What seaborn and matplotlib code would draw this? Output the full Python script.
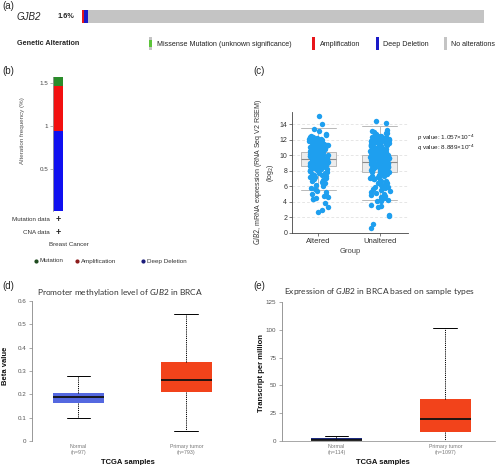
import numpy as np
import pandas as pd
import matplotlib
matplotlib.use("Agg")
import matplotlib.pyplot as plt
from matplotlib.patches import Rectangle
from matplotlib.lines import Line2D
import seaborn as sns

# ---------------- data ----------------
gene = "GJB2"
altered_label = "1.6%"
# (a)/(b) alteration frequencies (% of breast cancer samples)
b_types = ["Mutation", "Amplification", "Deep Deletion"]
b_freq = [0.11, 0.52, 0.94]
a_legend = ["Missense Mutation (unknown significance)", "Amplification",
            "Deep Deletion", "No alterations"]

# (c) expression by alteration group
c_groups = ["Altered", "Unaltered"]
altered_box = [5.5, 8.6, 9.45, 10.4, 13.5]       # whislo, q1, med, q3, whishi
unaltered_box = [4.2, 7.8, 9.07, 10.0, 13.75]
altered_expr = [15.02, 14.01, 13.35, 13.08, 12.74, 12.55, 12.41, 12.33, 12.28, 12.19,
                12.12, 12.07, 12.02, 11.96, 11.91, 11.88, 11.83, 11.79, 11.72, 11.69,
                11.63, 11.61, 11.56, 11.52, 11.48, 11.44, 11.41, 11.37, 11.33, 11.29,
                11.26, 11.22, 11.18, 11.15, 11.11, 11.07, 11.04, 11.01, 10.97, 10.93,
                10.91, 10.87, 10.84, 10.81, 10.77, 10.74, 10.71, 10.68, 10.64, 10.62,
                10.58, 10.55, 10.52, 10.49, 10.46, 10.43, 10.41, 10.38, 10.35, 10.32,
                10.29, 10.27, 10.24, 10.21, 10.18, 10.16, 10.13, 10.1, 10.08, 10.05,
                10.02, 9.99, 9.97, 9.94, 9.91, 9.89, 9.86, 9.84, 9.81, 9.78, 9.76,
                9.73, 9.7, 9.68, 9.65, 9.62, 9.6, 9.57, 9.54, 9.51, 9.49, 9.46, 9.43,
                9.41, 9.38, 9.35, 9.32, 9.3, 9.27, 9.24, 9.21, 9.18, 9.15, 9.12, 9.09,
                9.06, 9.03, 9.0, 8.96, 8.93, 8.9, 8.86, 8.83, 8.79, 8.75, 8.72, 8.68,
                8.64, 8.6, 8.56, 8.52, 8.47, 8.42, 8.37, 8.31, 8.25, 8.18, 8.12, 8.05,
                7.98, 7.91, 7.83, 7.75, 7.66, 7.58, 7.49, 7.41, 7.32, 7.23, 7.14, 7.05,
                6.95, 6.82, 6.68, 6.55, 6.41, 6.27, 6.12, 5.96, 5.81, 5.63, 5.44, 5.21,
                4.98, 4.83, 4.72, 4.61, 4.49, 4.38, 4.29, 3.82, 3.31, 2.91, 2.72]
unaltered_expr = [14.35, 14.2, 13.25, 13.12, 13.02, 12.91, 12.82, 12.68, 12.59, 12.51,
                  12.44, 12.38, 12.31, 12.26, 12.2, 12.16, 12.11, 12.06, 12.01, 11.97,
                  11.92, 11.88, 11.83, 11.79, 11.74, 11.7, 11.66, 11.62, 11.57, 11.53,
                  11.49, 11.45, 11.41, 11.37, 11.33, 11.29, 11.25, 11.21, 11.17, 11.13,
                  11.09, 11.05, 11.01, 10.98, 10.94, 10.9, 10.87, 10.83, 10.79, 10.76,
                  10.72, 10.69, 10.65, 10.62, 10.58, 10.55, 10.51, 10.48, 10.45, 10.41,
                  10.38, 10.35, 10.31, 10.28, 10.25, 10.22, 10.19, 10.15, 10.12, 10.09,
                  10.06, 10.03, 10.0, 9.97, 9.94, 9.91, 9.88, 9.85, 9.82, 9.79, 9.76,
                  9.73, 9.7, 9.67, 9.64, 9.61, 9.58, 9.55, 9.52, 9.49, 9.46, 9.43, 9.4,
                  9.37, 9.34, 9.31, 9.28, 9.25, 9.22, 9.19, 9.16, 9.13, 9.1, 9.07, 9.04,
                  9.01, 8.97, 8.94, 8.91, 8.88, 8.85, 8.81, 8.78, 8.75, 8.71, 8.68, 8.65,
                  8.61, 8.58, 8.54, 8.51, 8.47, 8.44, 8.4, 8.36, 8.33, 8.29, 8.25, 8.21,
                  8.17, 8.13, 8.09, 8.05, 8.01, 7.96, 7.92, 7.87, 7.83, 7.78, 7.73, 7.68,
                  7.63, 7.58, 7.52, 7.46, 7.41, 7.35, 7.29, 7.22, 7.16, 7.09, 7.02, 6.95,
                  6.88, 6.8, 6.72, 6.64, 6.55, 6.46, 6.37, 6.27, 6.17, 6.06, 5.95, 5.84,
                  5.72, 5.6, 5.47, 5.34, 5.21, 5.07, 4.93, 4.81, 4.69, 4.58, 4.47, 4.36,
                  4.24, 4.12, 4.03, 3.52, 3.41, 3.35, 2.31, 2.12, 1.12, 0.55]
p_value = "1.057"
q_value = "8.889"
pq_exponent = "-4"

# (d) promoter methylation
d_groups = ["Normal", "Primary tumor"]
d_n = [97, 793]
normal_meth = [0.099, 0.162, 0.187, 0.207, 0.279]
tumor_meth = [0.042, 0.209, 0.263, 0.340, 0.546]

# (e) expression (TPM)
e_groups = ["Normal", "Primary tumor"]
e_n = [114, 1097]
normal_tpm = [0.0, 0.5, 1.3, 2.3, 4.8]
tumor_tpm = [0.3, 8.4, 19.8, 38.0, 101.9]

# ---------------- style ----------------
sns.set_theme(style="white")
plt.rcParams["font.family"] = ["Liberation Sans", "DejaVu Sans"]
plt.rcParams["mathtext.fontset"] = "custom"
plt.rcParams["mathtext.it"] = "Lato:italic"
plt.rcParams["mathtext.rm"] = "Lato"

W, H = 500, 465
fig = plt.figure(figsize=(5, 4.65), dpi=100)


def add_ax(x0, y0, x1, y1):
    return fig.add_axes([x0 / W, 1 - y1 / H, (x1 - x0) / W, (y1 - y0) / H])


def ftext(x, y, s, **kw):
    kw.setdefault("va", "center")
    return fig.text(x / W, 1 - y / H, s, **kw)


def frect(x0, y0, x1, y1, color):
    fig.add_artist(Rectangle((x0 / W, 1 - y1 / H), (x1 - x0) / W, (y1 - y0) / H,
                             transform=fig.transFigure, color=color, lw=0))


# ---------------- (a) ----------------
A_RED, A_BLUE, A_GREEN, A_GRAY = "#E8161B", "#1A1AC8", "#5CC43A", "#C4C4C4"
axA = add_ax(82, 10, 484, 23)
left = 0.0
for v, c in zip([b_freq[1], b_freq[2], b_freq[0]], [A_RED, A_BLUE, A_GREEN]):
    axA.barh(0, v, left=left, height=1, color=c, lw=0)
    left += v
axA.barh(0, 100 - left, left=left, height=1, color=A_GRAY, lw=0)
axA.set_xlim(0, 100)
axA.set_ylim(-0.5, 0.5)
axA.axis("off")

ftext(2, 6, "(a)", fontsize=7)
ftext(17, 17, gene, fontsize=7, style="italic")
ftext(58, 17, altered_label, fontsize=5.3, weight="bold")
ftext(17, 43, "Genetic Alteration", fontsize=5.2, weight="bold")
frect(149, 37, 152, 50, A_GRAY)
frect(149, 40, 152, 47, A_GREEN)
frect(312, 37, 315, 50, A_RED)
frect(376, 37, 379, 50, A_BLUE)
frect(444, 37, 447, 50, A_GRAY)
for x, s in zip([157, 320, 383, 451], a_legend):
    ftext(x, 44, s, fontsize=5.1, color="#222")

# ---------------- (b) ----------------
B_COL = {"Mutation": "#2A8C2A", "Amplification": "#F21010", "Deep Deletion": "#1010F0"}
B_DOT = {"Mutation": "#1E4A1E", "Amplification": "#8C1A1A", "Deep Deletion": "#1A1A7A"}
axB = add_ax(53, 77, 63, 211.5)
bottom = 0.0
for t in ["Deep Deletion", "Amplification", "Mutation"]:
    v = b_freq[b_types.index(t)]
    axB.bar(0, v, bottom=bottom, width=1, color=B_COL[t], lw=0)
    bottom += v
axB.set_xlim(-0.5, 0.5)
axB.set_ylim(0, sum(b_freq))
for s in ["top", "right", "bottom"]:
    axB.spines[s].set_visible(False)
axB.spines["left"].set_color("#999")
axB.spines["left"].set_linewidth(0.6)
axB.set_xticks([])
axB.set_yticks([0.5, 1, 1.5])
axB.set_yticklabels(["0.5", "1", "1.5"])
axB.tick_params(axis="y", length=2, width=0.5, color="#999", labelsize=4.5,
                labelcolor="#444", pad=1.5, left=True)
axB.set_ylabel("Alteration frequency (%)", fontsize=4.5, color="#555")
axB.yaxis.set_label_coords(-2.8, 0.6)

ftext(2, 71, "(b)", fontsize=7)
ftext(50, 219, "Mutation data", ha="right", fontsize=4.5, color="#333")
ftext(50, 232, "CNA data", ha="right", fontsize=4.5, color="#333")
ftext(58, 219, "+", ha="center", fontsize=6.5, weight="bold", color="#222")
ftext(58, 232, "+", ha="center", fontsize=6.5, weight="bold", color="#222")
ftext(49, 244, "Breast Cancer", ha="left", fontsize=4.5, color="#333")
for x, t in zip([36, 77, 143], b_types):
    fig.add_artist(Line2D([x / W], [1 - 261 / H], marker="o", ms=2.0, lw=0,
                          color=B_DOT[t], transform=fig.transFigure))
    ftext(x + 4, 261, t, fontsize=4.5, color="#333")

# ---------------- (c) ----------------
axC = add_ax(292, 111.7, 408, 232.7)
df_box = pd.DataFrame({"Group": [c_groups[0]] * 5 + [c_groups[1]] * 5,
                       "value": altered_box + unaltered_box})
sns.boxplot(data=df_box, x="Group", y="value", order=c_groups, whis=(0, 100),
            width=0.57, color="#ececec", saturation=1, linecolor="#b8b8b8",
            linewidth=0.7, fliersize=0, capwidths=0.57,
            medianprops=dict(color="#8a8a8a", linewidth=0.8), ax=axC)
df_pts = pd.DataFrame({"Group": [c_groups[0]] * len(altered_expr)
                       + [c_groups[1]] * len(unaltered_expr),
                       "value": altered_expr + unaltered_expr})
np.random.seed(3)
sns.stripplot(data=df_pts, x="Group", y="value", order=c_groups, color="#1E9FEF",
              size=3.9, jitter=0.16, linewidth=0, ax=axC, zorder=3)
axC.set_xlim(-0.43, 1.46)
axC.set_ylim(0, 15.6)
axC.set_yticks(range(0, 15, 2))
axC.yaxis.grid(True, linestyle=(0, (4, 3)), color="#dcdcdc", linewidth=0.5)
axC.set_axisbelow(True)
for s in ["top", "right"]:
    axC.spines[s].set_visible(False)
for s in ["left", "bottom"]:
    axC.spines[s].set_color("#444")
    axC.spines[s].set_linewidth(0.6)
axC.tick_params(axis="both", length=2, width=0.5, color="#444", labelsize=5,
                labelcolor="#333", pad=1.5, left=True, bottom=True)
axC.tick_params(axis="x", labelsize=5.5)
axC.set_xlabel("Group", fontsize=5.5, color="#444", labelpad=2.5)
axC.set_ylabel(r"$\it{GJB2}$, mRNA expression (RNA Seq V2 RSEM)" + "\n" + r"(log$_2$)",
               fontsize=5, color="#333", linespacing=1.1)
axC.yaxis.set_label_coords(-0.14, 0.5)
ftext(253, 71, "(c)", fontsize=7)
ftext(417, 138, r"$p$ value: " + p_value + r"$\times$10$^{" + pq_exponent + "}$",
      fontsize=4.6, color="#222")
ftext(417, 148, r"$q$ value: " + q_value + r"$\times$10$^{" + pq_exponent + "}$",
      fontsize=4.6, color="#222")


# ---------------- (d) & (e) ----------------
def box_panel(ax, groups, ns, normal, tumor, colors, capw):
    df = pd.DataFrame({"Sample": [groups[0]] * 5 + [groups[1]] * 5,
                       "value": normal + tumor})
    sns.boxplot(data=df, x="Sample", y="value", hue="Sample", order=groups,
                hue_order=groups, palette=colors, legend=False, whis=(0, 100),
                width=0.47, saturation=1, linecolor="black", linewidth=0.7,
                fliersize=0, capwidths=capw,
                boxprops=dict(linewidth=0),
                whiskerprops=dict(linestyle=(0, (1.2, 1.0)), linewidth=0.7),
                medianprops=dict(linewidth=1.3, color="#111"), ax=ax)
    for p in ax.patches:
        p.set_linewidth(0)
    ax.set_xticks([0, 1])
    ax.set_xticklabels([f"{g}\n(n={n})" for g, n in zip(groups, ns)])
    ax.tick_params(axis="x", length=0, labelsize=3.8, labelcolor="#777", pad=2)
    ax.tick_params(axis="y", length=2.5, width=0.5, color="#888", labelsize=4.5,
                   labelcolor="#555", pad=1.5, left=True)
    for s in ["top", "right"]:
        ax.spines[s].set_visible(False)
    ax.spines["left"].set_color("#888")
    ax.spines["left"].set_linewidth(0.6)
    ax.set_xlabel("")


axD = add_ax(32, 301, 237, 441)
box_panel(axD, d_groups, d_n, normal_meth, tumor_meth, ["#5468E0", "#F2431B"], 0.22)
axD.spines["bottom"].set_visible(False)
axD.set_xlim(-0.43, 1.47)
axD.set_ylim(0, 0.6)
axD.set_yticks([0, 0.1, 0.2, 0.3, 0.4, 0.5, 0.6])
axD.set_yticklabels(["0", "0.1", "0.2", "0.3", "0.4", "0.5", "0.6"])
axD.set_ylabel("Beta value", fontsize=5.5, weight="bold", color="#111")
axD.yaxis.set_label_coords(-0.11, 0.54)
ftext(2, 286, "(d)", fontsize=7)
ftext(120, 292, r"Promoter methylation level of $\it{GJB2}$ in BRCA", ha="center",
      fontsize=6, family="Lato", color="#333")
ftext(128, 462, "TCGA samples", ha="center", fontsize=5.5, weight="bold", color="#111")

axE = add_ax(282, 302, 494.5, 441)
box_panel(axE, e_groups, e_n, normal_tpm, tumor_tpm, ["#1C2B7F", "#F2431B"], 0.22)
axE.spines["bottom"].set_color("#999")
axE.spines["bottom"].set_linewidth(0.6)
axE.set_xlim(-0.5, 1.45)
axE.set_ylim(0, 125)
axE.set_yticks([0, 25, 50, 75, 100, 125])
axE.set_ylabel("Transcript per million", fontsize=5.5, weight="bold", color="#111")
axE.yaxis.set_label_coords(-0.08, 0.49)
ftext(253, 286, "(e)", fontsize=7)
ftext(379.5, 291, r"Expression of $\it{GJB2}$ in BRCA based on sample types",
      ha="center", fontsize=6, family="Lato", color="#333")
ftext(383, 462, "TCGA samples", ha="center", fontsize=5.5, weight="bold", color="#111")

fig.savefig("out.png", dpi=100)
